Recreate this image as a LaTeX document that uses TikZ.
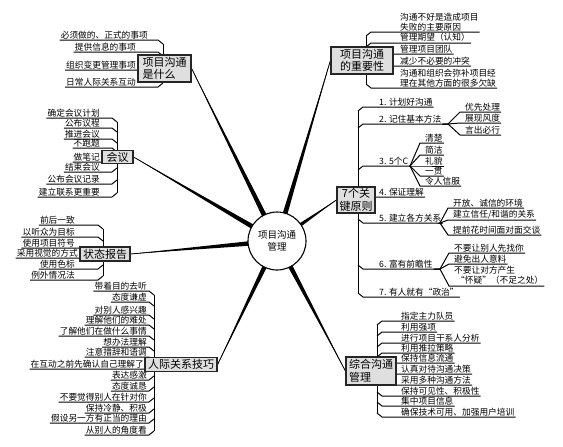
\documentclass[tikz,border=0pt]{standalone}
\usepackage{fontspec}
\setmainfont{Noto Sans CJK SC}
\usepackage{tikz}
\usetikzlibrary{calc, positioning}
\pgfdeclarelayer{back}
\pgfsetlayers{back,main}

\begin{document}
\begin{tikzpicture}[
  x=1pt, y=-1pt,
  topic/.style={draw=black!85, line width=1.2pt, fill=gray!25, inner xsep=2pt, inner ysep=1.5pt, font=\fontsize{11}{12.5}\selectfont},
  hub/.style={circle, draw=black, line width=1.1pt, fill=white, minimum size=58pt, inner sep=0pt, align=center, font=\fontsize{9.5}{12.5}\selectfont},
  leafl/.style={anchor=south east, inner sep=1pt, font=\fontsize{8.7}{10}\selectfont},
  leafr/.style={anchor=south west, inner sep=1pt, align=left, font=\fontsize{8.7}{10}\selectfont},
  leaf/.style={line width=1pt},
]
\useasboundingbox (0,0) rectangle (563,447);

% Spines
\coordinate (s1a) at (163,44);  \coordinate (s1b) at (163,83);
\coordinate (s2a) at (117,122); \coordinate (s2b) at (117,193);
\coordinate (s3a) at (103,229); \coordinate (s3b) at (103,276);
\coordinate (s4a) at (154,295); \coordinate (s4b) at (154,431);
\coordinate (s5a) at (366,36);  \coordinate (s5b) at (366,84);
\coordinate (s6a) at (358,111); \coordinate (s6b) at (358,293);
\coordinate (s7a) at (377,325); \coordinate (s7b) at (377,413);

% What
\foreach \t/\xx/\yy [count=\i] in {必须做的、正式的事项/149/40, 提供信息的事项/137/52, 组织变更管理事项/137/70, 日常人际关系互动/137/87}{
  \node[leafl] (what\i) at (\xx,\yy) {\t};
  \pgfmathsetmacro\d{\yy<68.5 ? 4 : -4}
  \draw[leaf] (what\i.south west) -- ($(what\i.south west -| s1a)+(-5,0)$) -- ($(what\i.south west -| s1a)+(0,\d)$);
}
\draw[leaf] (s1a) -- (s1b);

% Meeting
\foreach \t/\xx/\yy [count=\i] in {确定会议计划/101/118, 公布议程/101/128, 推进会议/101/139, 不跑题/101/148, 做笔记/101/162, 结束会议/101/172, 公布会议记录/101/184, 建立联系更重要/101/197}{
  \node[leafl] (meet\i) at (\xx,\yy) {\t};
  \pgfmathsetmacro\d{\yy<157 ? 4 : -4}
  \draw[leaf] (meet\i.south west) -- ($(meet\i.south west -| s2a)+(-5,0)$) -- ($(meet\i.south west -| s2a)+(0,\d)$);
}
\draw[leaf] (s2a) -- (s2b);

% Status
\foreach \t/\xx/\yy [count=\i] in {前后一致/76/225, 以听众为目标/76/237, 使用项目符号/76/248, 采用视觉的方式/79/258, 使用色标/76/269, 例外情况法/76/280}{
  \node[leafl] (stat\i) at (\xx,\yy) {\t};
  \pgfmathsetmacro\d{\yy<254 ? 4 : -4}
  \draw[leaf] (stat\i.south west) -- ($(stat\i.south west -| s3a)+(-5,0)$) -- ($(stat\i.south west -| s3a)+(0,\d)$);
}
\draw[leaf] (s3a) -- (s3b);

% People
\foreach \t/\xx/\yy [count=\i] in {带着目的去听/148/291, 态度谦虚/148/302, 对别人感兴趣/148/315, 理解他们的难处/148/325, 了解他们在做什么事情/148/336, 想办法理解/148/347, 注意措辞和语调/148/357, 在互动之前先确认自己理解了/145/369, 表达感激/148/380, 态度诚恳/148/391, 不要觉得别人在针对你/148/402, 保持冷静、积极/148/413, 假设另一方有正当的理由/148/423, 从别人的角度看/148/435}{
  \node[leafl] (ppl\i) at (\xx,\yy) {\t};
  \pgfmathsetmacro\d{\yy<364.5 ? 4 : -4}
  \draw[leaf] (ppl\i.south west) -- ($(ppl\i.south west -| s4a)+(-5,0)$) -- ($(ppl\i.south west -| s4a)+(0,\d)$);
}
\draw[leaf] (s4a) -- (s4b);

% Why
\foreach \t/\xx/\yy [count=\i] in {{沟通不好是造成项目\\失败的主要原因}/399/32, 管理期望（认知）/399/43, 管理项目团队/399/54, 减少不必要的冲突/399/66, {沟通和组织会弥补项目经\\理在其他方面的很多欠缺}/399/88}{
  \node[leafr] (why\i) at (\xx,\yy) {\t};
  \pgfmathsetmacro\d{\yy<60.5 ? 4 : -4}
  \draw[leaf] ($(why\i.south west -| s5a)+(0,\d)$) -- ($(why\i.south west -| s5a)+(5,0)$) -- (why\i.south east);
}
\draw[leaf] (s5a) -- (s5b);

% Rules
\foreach \t/\xx/\yy [count=\i] in {1. 计划好沟通/378/107, 2. 记住基本方法/378/124, 3. 5个C/378/166, 4. 保证理解/378/197, 5. 建立各方关系/378/223, 6. 富有前瞻性/378/269, {7. 有人就有“政治”}/378/297}{
  \node[leafr] (rule\i) at (\xx,\yy) {\t};
  \pgfmathsetmacro\d{\yy<200 ? 4 : -4}
  \draw[leaf] ($(rule\i.south west -| s6a)+(0,\d)$) -- ($(rule\i.south west -| s6a)+(5,0)$) -- (rule\i.south east);
}
\draw[leaf] (s6a) -- (s6b);

\coordinate (f2) at (448,124);
\coordinate (f3) at (410,166);
\coordinate (f5) at (440,223);
\coordinate (f6) at (440,269);
\foreach \t/\xx/\yy [count=\i] in {优先处理/464/112, 展现风度/464/123, 言出必行/464/135}{
  \node[leafr] (ways\i) at (\xx,\yy) {\t};
  \draw[leaf] (rule2.south east) -- (f2) -- ($(ways\i.south west)+(-4,0)$) -- (ways\i.south east);
}
\foreach \t/\xx/\yy [count=\i] in {清楚/424/143, 简洁/424/155, 礼貌/424/166, 一贯/424/176, 令人信服/424/186}{
  \node[leafr] (fivec\i) at (\xx,\yy) {\t};
  \draw[leaf] (rule3.south east) -- (f3) -- ($(fivec\i.south west)+(-4,0)$) -- (fivec\i.south east);
}
\foreach \t/\xx/\yy [count=\i] in {开放、诚信的环境/452/208, {建立信任/和谐的关系}/452/220, 提前花时间面对面交谈/452/235}{
  \node[leafr] (ties\i) at (\xx,\yy) {\t};
  \draw[leaf] (rule5.south east) -- (f5) -- ($(ties\i.south west)+(-4,0)$) -- (ties\i.south east);
}
\foreach \t/\xx/\yy [count=\i] in {不要让别人先找你/453/253, 避免出人意料/453/264, {不要让对方产生\\\ “怀疑”（不足之处）}/453/286}{
  \node[leafr] (ahead\i) at (\xx,\yy) {\t};
  \draw[leaf] (rule6.south east) -- (f6) -- ($(ahead\i.south west)+(-4,0)$) -- (ahead\i.south east);
}

% All
\foreach \t/\xx/\yy [count=\i] in {指定主力队员/400/321, 利用强项/400/332, 进行项目干系人分析/400/343, 利用推拉策略/400/353, 保持信息流通/400/363, 认真对待沟通决策/400/374, 采用多种沟通方法/400/385, 保持可见性、积极性/400/396, 集中项目信息/400/406, 确保技术可用、加强用户培训/400/417}{
  \node[leafr] (all\i) at (\xx,\yy) {\t};
  \pgfmathsetmacro\d{\yy<371 ? 4 : -4}
  \draw[leaf] ($(all\i.south west -| s7a)+(0,\d)$) -- ($(all\i.south west -| s7a)+(5,0)$) -- (all\i.south east);
}
\draw[leaf] (s7a) -- (s7b);

% Topics
\node[topic, align=left, minimum width=53pt, minimum height=27pt] (what) at (164.5,68.5) {项目沟通\\是什么};
\node[topic, minimum width=31pt, minimum height=13pt] (meet) at (117.5,157) {会议};
\node[topic, minimum width=50pt, minimum height=14pt] (status) at (105,254) {状态报告};
\node[topic, minimum width=72pt, minimum height=14pt] (people) at (181,364.5) {人际关系技巧};
\node[topic, align=center, minimum width=62pt, minimum height=27pt] (why) at (362,60.5) {项目沟通\\的重要性};
\node[topic, align=center, minimum width=38pt, minimum height=26pt] (rules) at (356,200) {7个关\\键原则};
\node[topic, align=left, minimum width=50pt, minimum height=28pt] (all) at (371,371) {综合沟通\\管理};

\node[hub] (hub) at (277,241) {项目沟通\\管理};

% Branches
\begin{pgfonlayer}{back}
\foreach \b/\a in {what/east, meet/east, status/east, people/east, why/west, rules/west, all/west}{
  \fill ($(hub)!2.8pt!90:(\b.\a)$) -- (\b.\a) -- ($(hub)!2.8pt!-90:(\b.\a)$) -- cycle;
  \draw[line width=0.8pt] (hub) -- (\b.\a);
}
\end{pgfonlayer}

\end{tikzpicture}
\end{document}
